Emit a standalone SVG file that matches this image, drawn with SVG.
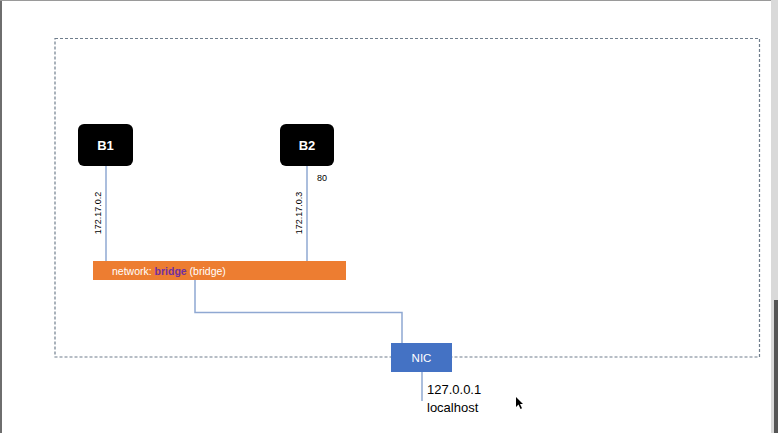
<svg xmlns="http://www.w3.org/2000/svg" width="778" height="433" viewBox="0 0 778 433">
<style>
.box{fill:#000;}
.wire{fill:none;stroke:#8fa8d2;stroke-width:1.5;}
.lbl{font-family:"Liberation Sans",Arial,sans-serif;fill:#fff;text-anchor:middle;}
.ip{font-family:"Liberation Sans",Arial,sans-serif;font-size:9px;fill:#000;}
.big{font-family:"Liberation Sans",Arial,sans-serif;font-size:13px;fill:#000;}
</style>
<rect x="0" y="0" width="778" height="433" fill="#fff"/>
<rect x="0" y="0" width="2" height="433" fill="#6e6e6e"/>
<rect x="0" y="0" width="778" height="1" fill="#9a9a9a"/>
<rect x="771" y="0" width="7" height="433" fill="#d9d9d9"/>
<rect x="774" y="300" width="4" height="133" fill="#555"/>
<rect id="host" x="55" y="38.5" width="704.5" height="318.5" fill="none" stroke="#6f7d8c" stroke-width="1.2" stroke-dasharray="3,2"/>
<g id="connectors">
<line class="wire" x1="106" y1="166" x2="106" y2="262"/>
<line class="wire" x1="307" y1="166" x2="307" y2="262"/>
<polyline class="wire" points="195,280 195,312.5 402,312.5 402,343"/>
<line class="wire" x1="422" y1="372" x2="422" y2="401"/>
</g>
<g id="B1">
<rect class="box" x="78" y="124" width="55" height="42" rx="6"/>
<text class="lbl" x="105.5" y="150" font-size="13" font-weight="bold">B1</text>
</g>
<g id="B2">
<rect class="box" x="280" y="124" width="54" height="42" rx="6"/>
<text class="lbl" x="307" y="150" font-size="13" font-weight="bold">B2</text>
</g>
<text class="ip" transform="translate(100.5,213) rotate(-90)" text-anchor="middle">172.17.0.2</text>
<text class="ip" transform="translate(301.5,213) rotate(-90)" text-anchor="middle">172.17.0.3</text>
<text class="ip" x="317" y="181">80</text>
<g id="bridge">
<rect x="93" y="261" width="253" height="19" fill="#ed7d31"/>
<text x="112" y="274.5" font-family="'Liberation Sans',Arial,sans-serif" font-size="10.5" fill="#fff">network: <tspan fill="#7030a0" font-weight="bold">bridge</tspan> (bridge)</text>
</g>
<g id="NIC">
<rect x="391" y="343" width="61" height="29" fill="#4472c4"/>
<text class="lbl" x="421.5" y="361.5" font-size="11.5">NIC</text>
</g>
<text class="big" x="427" y="394">127.0.0.1</text>
<text class="big" x="427" y="412">localhost</text>
<polygon points="516,397 516,407 518.5,404.5 520.5,409 522,408.3 520,404 523,404" fill="#000"/>
</svg>
